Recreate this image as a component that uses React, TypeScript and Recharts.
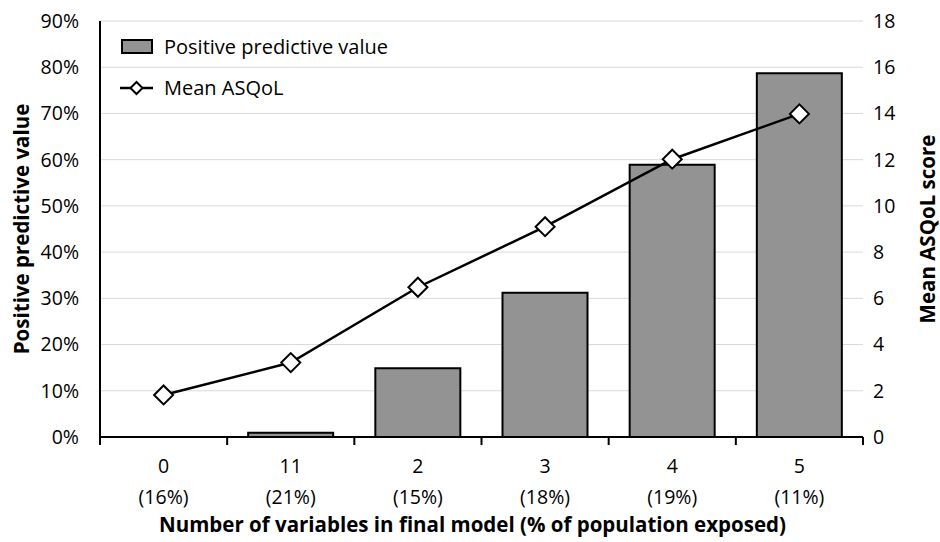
import {
  ComposedChart,
  Bar,
  Line,
  XAxis,
  YAxis,
  CartesianGrid,
  Legend,
} from "recharts";

// Excel-style combo chart: PPV bars (left %) + mean ASQoL line (right score)

const categories = ["0", "11", "2", "3", "4", "5"];
const exposed    = ["(16%)", "(21%)", "(15%)", "(18%)", "(19%)", "(11%)"];
const ppv        = [0, 0.9, 14.9, 31.2, 58.9, 78.7];
const asqol      = [1.82, 3.22, 6.48, 9.1, 12.02, 13.98];

const leftTicks  = [0, 10, 20, 30, 40, 50, 60, 70, 80, 90];
const rightTicks = [0, 2, 4, 6, 8, 10, 12, 14, 16, 18];

const data = categories.map((c, i) => ({
  cat: c,
  exp: exposed[i],
  ppv: ppv[i],
  asqol: asqol[i],
}));

const W = 940;
const H = 542;
const MARGIN = { top: 21, right: 0, bottom: 0, left: 0 };
const LEFT_W = 100;
const RIGHT_W = 77;
const X_H = 105;
const PLOT_W = W - LEFT_W - RIGHT_W;
const BAND = PLOT_W / categories.length;

const FONT = "'Open Sans', 'Noto Sans', sans-serif";
const BAR_FILL = "#939393";
const TICK_FS = 19.5;
const TITLE_FS = 20.5;

function XTick(props: any) {
  const { x, y, index } = props;
  const last = index === categories.length - 1;
  return (
    <g>
      <line x1={x - BAND / 2} x2={x - BAND / 2} y1={y} y2={y + 8} stroke="#000" strokeWidth={2} />
      {last && (
        <line x1={x + BAND / 2} x2={x + BAND / 2} y1={y} y2={y + 8} stroke="#000" strokeWidth={2} />
      )}
      <text x={x} y={y + 36} textAnchor="middle" fontSize={TICK_FS} fill="#000" fontFamily={FONT}>
        {categories[index]}
      </text>
      <text x={x} y={y + 67} textAnchor="middle" fontSize={TICK_FS} fill="#000" fontFamily={FONT}>
        {exposed[index]}
      </text>
    </g>
  );
}

function Diamond(props: any) {
  const { cx, cy } = props;
  if (cx == null || cy == null) return null;
  const r = 9.5;
  return (
    <path
      d={`M${cx},${cy - r} L${cx + r},${cy} L${cx},${cy + r} L${cx - r},${cy} Z`}
      fill="#fff"
      stroke="#000"
      strokeWidth={2}
    />
  );
}

function LegendBox() {
  return (
    <svg width={300} height={70} style={{ display: "block" }}>
      <rect x={5} y={7} width={30} height={13} fill={BAR_FILL} stroke="#000" strokeWidth={2} />
      <text x={47} y={21} fontSize={20} fontFamily={FONT} fill="#000">
        Positive predictive value
      </text>
      <line x1={3} x2={36} y1={55} y2={55} stroke="#000" strokeWidth={2.5} />
      <path d="M19.5,49 L25.5,55 L19.5,61 L13.5,55 Z" fill="#fff" stroke="#000" strokeWidth={2} />
      <text x={47} y={62} fontSize={20} fontFamily={FONT} fill="#000">
        Mean ASQoL
      </text>
    </svg>
  );
}

export default function App() {
  return (
    <div style={{ position: "fixed", left: 0, top: 0, width: W, height: H, background: "#fff" }}>
      <ComposedChart width={W} height={H} data={data} margin={MARGIN}>
        <CartesianGrid yAxisId="left" vertical={false} stroke="#d9d9d9" strokeWidth={1} />
        <XAxis
          dataKey="cat"
          height={X_H}
          axisLine={{ stroke: "#000", strokeWidth: 2 }}
          tickLine={false}
          tickSize={0}
          tickMargin={0}
          interval={0}
          tick={<XTick />}
          label={{
            value: "Number of variables in final model (% of population exposed)",
            position: "insideBottom",
            offset: 10,
            fontSize: TITLE_FS,
            fontWeight: 700,
            fill: "#000",
            fontFamily: FONT,
            dx: -9,
          }}
        />
        <YAxis
          yAxisId="left"
          width={LEFT_W}
          domain={[0, 90]}
          ticks={leftTicks}
          allowDataOverflow
          tickFormatter={(v: number) => `${v}%`}
          axisLine={{ stroke: "#000", strokeWidth: 2 }}
          tickLine={false}
          tickSize={0}
          tickMargin={21}
          tick={{ fontSize: TICK_FS, fill: "#000", fontFamily: FONT }}
          label={{
            value: "Positive predictive value",
            angle: -90,
            position: "insideLeft",
            offset: 22,
            style: { textAnchor: "middle" },
            fontSize: TITLE_FS,
            fontWeight: 700,
            fill: "#000",
            fontFamily: FONT,
          }}
        />
        <YAxis
          yAxisId="right"
          orientation="right"
          width={RIGHT_W}
          domain={[0, 18]}
          ticks={rightTicks}
          allowDataOverflow
          axisLine={false}
          tickLine={false}
          tickSize={0}
          tickMargin={10}
          tick={{ fontSize: TICK_FS, fill: "#000", fontFamily: FONT }}
          label={{
            value: "Mean ASQoL score",
            angle: -90,
            position: "insideRight",
            offset: 12,
            style: { textAnchor: "middle" },
            fontSize: TITLE_FS,
            fontWeight: 700,
            fill: "#000",
            fontFamily: FONT,
          }}
        />
        <Legend
          layout="vertical"
          align="center"
          verticalAlign="middle"
          wrapperStyle={{ top: 33, left: 117, width: 300, height: 70 }}
          content={() => <LegendBox />}
        />
        <Bar
          yAxisId="left"
          dataKey="ppv"
          barSize={85}
          fill={BAR_FILL}
          stroke="#000"
          strokeWidth={2}
          isAnimationActive={false}
        />
        <Line
          yAxisId="right"
          dataKey="asqol"
          stroke="#000"
          strokeWidth={2.5}
          dot={<Diamond />}
          activeDot={false}
          isAnimationActive={false}
        />
      </ComposedChart>
    </div>
  );
}
